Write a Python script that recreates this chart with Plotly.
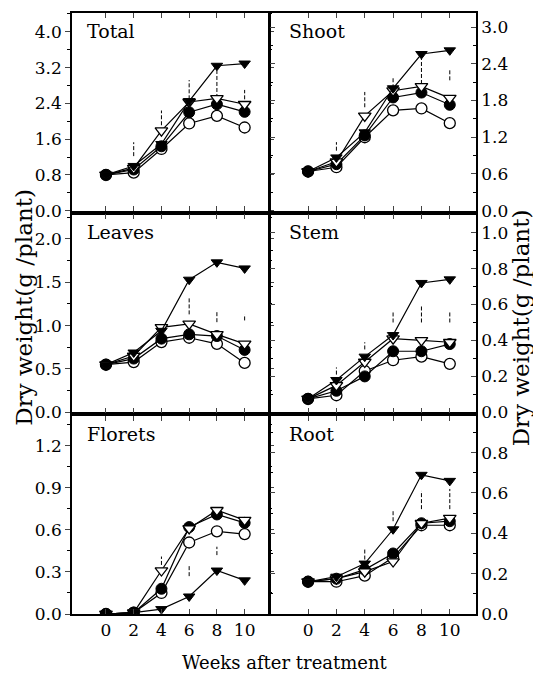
import plotly.graph_objects as go
from plotly.subplots import make_subplots

weeks = [0, 2, 4, 6, 8, 10]
tick_labels = ["0", "2", "4", "6", "8", "10"]
panels = ["Total", "Shoot", "Leaves", "Stem", "Florets", "Root"]

# series per panel: open circle, filled circle, open triangle, filled triangle
total_oc = [0.80, 0.85, 1.38, 1.95, 2.12, 1.86]
total_fc = [0.80, 0.92, 1.44, 2.20, 2.38, 2.21]
total_ot = [0.80, 0.95, 1.79, 2.43, 2.51, 2.38]
total_ft = [0.80, 1.00, 1.49, 2.45, 3.24, 3.29]
total_lsd_x = [2, 4, 6, 8, 10]
total_lsd_lo = [1.22, 1.91, 2.49, 2.52, 2.49]
total_lsd_hi = [1.53, 2.24, 2.92, 3.13, 2.70]

shoot_oc = [0.64, 0.71, 1.20, 1.64, 1.67, 1.43]
shoot_fc = [0.64, 0.76, 1.23, 1.85, 1.93, 1.73]
shoot_ot = [0.64, 0.80, 1.55, 1.96, 2.03, 1.84]
shoot_ft = [0.64, 0.87, 1.28, 2.00, 2.56, 2.62]
shoot_lsd_x = [2, 4, 6, 8, 10]
shoot_lsd_lo = [0.98, 1.69, 2.00, 2.07, 2.13]
shoot_lsd_hi = [1.12, 1.94, 2.18, 2.48, 2.32]

leaves_oc = [0.55, 0.58, 0.81, 0.86, 0.79, 0.57]
leaves_fc = [0.55, 0.62, 0.85, 0.90, 0.88, 0.72]
leaves_ot = [0.55, 0.65, 0.98, 1.02, 0.90, 0.79]
leaves_ft = [0.55, 0.69, 0.94, 1.53, 1.73, 1.66]
leaves_lsd_x = [6, 8, 10]
leaves_lsd_lo = [1.13, 1.04, 1.06]
leaves_lsd_hi = [1.32, 1.16, 1.13]

stem_oc = [0.075, 0.095, 0.23, 0.29, 0.31, 0.27]
stem_fc = [0.075, 0.12, 0.20, 0.34, 0.34, 0.38]
stem_ot = [0.075, 0.15, 0.28, 0.41, 0.40, 0.39]
stem_ft = [0.075, 0.18, 0.31, 0.43, 0.72, 0.74]
stem_lsd_x = [2, 4, 6, 8, 10]
stem_lsd_lo = [0.21, 0.35, 0.50, 0.50, 0.50]
stem_lsd_hi = [0.25, 0.39, 0.56, 0.59, 0.56]

florets_oc = [0.0, 0.01, 0.15, 0.51, 0.59, 0.57]
florets_fc = [0.0, 0.01, 0.18, 0.62, 0.71, 0.65]
florets_ot = [0.0, 0.01, 0.31, 0.61, 0.74, 0.67]
florets_ft = [0.0, 0.01, 0.035, 0.125, 0.31, 0.24]
florets_lsd_x = [4, 6, 8]
florets_lsd_lo = [0.35, 0.27, 0.42]
florets_lsd_hi = [0.41, 0.35, 0.48]

root_oc = [0.16, 0.16, 0.19, 0.28, 0.44, 0.44]
root_fc = [0.16, 0.175, 0.22, 0.30, 0.45, 0.46]
root_ot = [0.16, 0.175, 0.21, 0.26, 0.45, 0.475]
root_ft = [0.16, 0.185, 0.25, 0.42, 0.69, 0.66]
root_lsd_x = [4, 6, 8, 10]
root_lsd_lo = [0.27, 0.46, 0.52, 0.52]
root_lsd_hi = [0.32, 0.51, 0.61, 0.62]

y_ranges = [[0, 4.42], [0, 3.23], [0, 2.28], [0, 1.10], [0, 1.41], [0, 0.98]]
y_dticks = [0.8, 0.6, 0.5, 0.2, 0.3, 0.2]

data = [
    (total_oc, total_fc, total_ot, total_ft, total_lsd_x, total_lsd_lo, total_lsd_hi),
    (shoot_oc, shoot_fc, shoot_ot, shoot_ft, shoot_lsd_x, shoot_lsd_lo, shoot_lsd_hi),
    (leaves_oc, leaves_fc, leaves_ot, leaves_ft, leaves_lsd_x, leaves_lsd_lo, leaves_lsd_hi),
    (stem_oc, stem_fc, stem_ot, stem_ft, stem_lsd_x, stem_lsd_lo, stem_lsd_hi),
    (florets_oc, florets_fc, florets_ot, florets_ft, florets_lsd_x, florets_lsd_lo, florets_lsd_hi),
    (root_oc, root_fc, root_ot, root_ft, root_lsd_x, root_lsd_lo, root_lsd_hi),
]

FONT = "DejaVu Serif"

fig = make_subplots(rows=3, cols=2, column_widths=[196, 206],
                    horizontal_spacing=3 / 404, vertical_spacing=4 / 603)

styles = [
    dict(symbol="circle", size=11, color="white", line=dict(color="black", width=1.3)),
    dict(symbol="circle", size=11, color="black", line=dict(color="black", width=1)),
    dict(symbol="triangle-down", size=11, color="white", line=dict(color="black", width=1.3)),
    dict(symbol="triangle-down", size=10, color="black", line=dict(color="black", width=1)),
]

for i, (oc, fc, ot, ft, lx, llo, lhi) in enumerate(data):
    r = i // 2 + 1
    c = i % 2 + 1
    # LSD bars
    bx, by = [], []
    for xv, lo, hi in zip(lx, llo, lhi):
        bx += [xv, xv, None]
        by += [lo, hi, None]
    fig.add_trace(go.Scatter(x=bx, y=by, mode="lines",
                             line=dict(color="black", width=1, dash="4px,2px"),
                             showlegend=False, hoverinfo="skip"), row=r, col=c)
    for series, st in zip([oc, fc, ot, ft], styles):
        fig.add_trace(go.Scatter(x=weeks, y=series, mode="lines+markers",
                                 line=dict(color="black", width=1.2),
                                 marker=st, showlegend=False), row=r, col=c)
    fig.add_annotation(text=panels[i], xref="x domain" if i == 0 else f"x{i+1} domain",
                       yref="y domain" if i == 0 else f"y{i+1} domain",
                       x=0.07 if c == 1 else 0.085, y=0.91, xanchor="left", yanchor="middle",
                       showarrow=False, font=dict(family=FONT, size=19, color="black"),
                       bgcolor="white", borderpad=0)
    # axes
    fig.update_xaxes(range=[-2.45, 11.65] if c == 1 else [-2.65, 11.85],
                     tickvals=weeks, ticktext=tick_labels,
                     showticklabels=(r == 3), ticks="inside", ticklen=5,
                     showline=True, linecolor="black", linewidth=1.6, mirror="ticks",
                     showgrid=False, zeroline=False,
                     tickfont=dict(family=FONT, size=17, color="black"),
                     row=r, col=c)
    fig.update_yaxes(range=y_ranges[i], dtick=y_dticks[i], tick0=0,
                     tickformat=".1f", side="left" if c == 1 else "right",
                     ticks="outside" if c == 1 else "inside", ticklen=5,
                     minor=dict(dtick=y_dticks[i] / 2, tick0=0, ticklen=3,
                                ticks="outside" if c == 1 else "inside", tickcolor="black"),
                     showline=True, linecolor="black", linewidth=1.6, mirror="ticks",
                     showgrid=False, zeroline=False,
                     tickfont=dict(family=FONT, size=17, color="black"),
                     row=r, col=c)

fig.add_annotation(text="Dry weight(g /plant)", xref="paper", yref="paper",
                   x=-0.119, y=0.511, textangle=-90, showarrow=False,
                   xanchor="center", yanchor="middle",
                   font=dict(family=FONT, size=23, color="black"))
fig.add_annotation(text="Dry weight(g /plant)", xref="paper", yref="paper",
                   x=1.11, y=0.476, textangle=-90, showarrow=False,
                   xanchor="center", yanchor="middle",
                   font=dict(family=FONT, size=23, color="black"))
fig.add_annotation(text="Weeks after treatment", xref="paper", yref="paper",
                   x=0.527, y=-0.08, showarrow=False,
                   xanchor="center", yanchor="middle",
                   font=dict(family=FONT, size=18, color="black"))

# the page body adds an 8px offset; shrink the figure so the plot area lands where the reference has it
fig.update_layout(width=533, height=665, margin=dict(l=64, r=65, t=3, b=59),
                  plot_bgcolor="white", paper_bgcolor="white")

fig.write_html("out.html")
